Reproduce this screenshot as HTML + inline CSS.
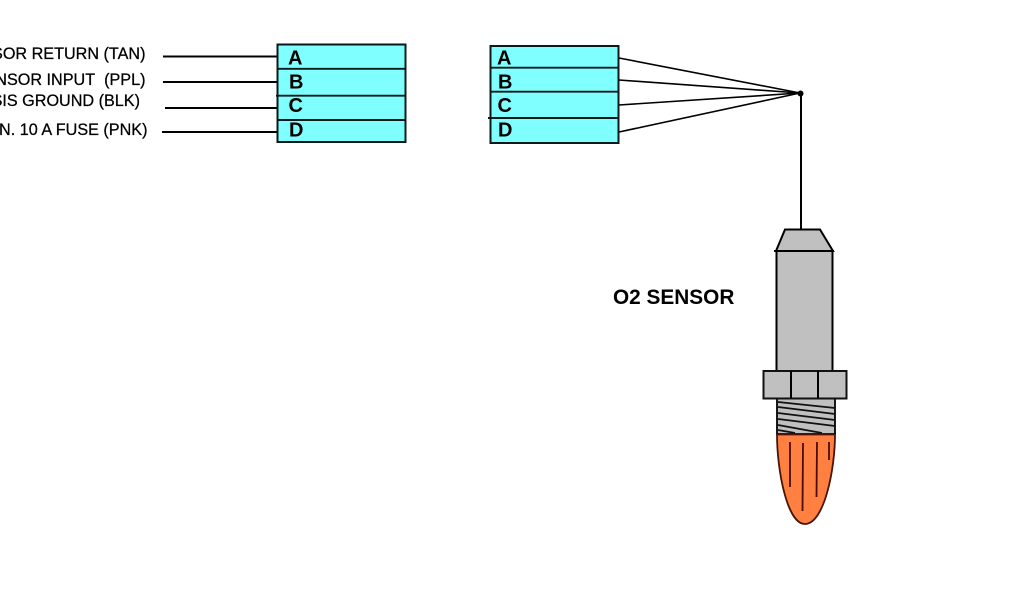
<!DOCTYPE html>
<html>
<head>
<meta charset="utf-8">
<style>
html,body{margin:0;padding:0;background:#fff;width:1024px;height:600px;overflow:hidden}
svg{display:block;filter:blur(.3px)}
text{font-family:"Liberation Sans",Arial,sans-serif;fill:#000}
.l{font-size:16.2px;text-anchor:end;stroke:#000;stroke-width:.25px}
.k{font-size:20px;font-weight:bold}
</style>
</head>
<body>
<svg width="1024" height="600" viewBox="0 0 1024 600" xmlns="http://www.w3.org/2000/svg">
<rect width="1024" height="600" fill="#fff"/>

<!-- left labels -->
<text class="l" x="145.500" y="59">SENSOR RETURN (TAN)</text>
<text class="l" x="145.500" y="85">O2 SENSOR INPUT&#160; (PPL)</text>
<text class="l" x="140" y="106">CHASSIS GROUND (BLK)</text>
<text class="l" x="147.500" y="135">IGN. 10 A FUSE (PNK)</text>

<g stroke="#000" stroke-width="2" fill="none">
<line x1="163" y1="56.500" x2="277" y2="56.500"/>
<line x1="163" y1="82" x2="277" y2="82"/>
<line x1="165" y1="108" x2="277" y2="108"/>
<line x1="162" y1="132" x2="277" y2="132"/>
</g>

<!-- left connector -->
<rect x="277.500" y="44.500" width="128" height="97.500" fill="#7fffff" stroke="#0a1a1a" stroke-width="2"/>
<g stroke="#0a1a1a" stroke-width="1.900">
<line x1="277" y1="68.800" x2="406" y2="68.800"/>
<line x1="276" y1="95.700" x2="406" y2="95.700"/>
<line x1="277" y1="120" x2="406" y2="120"/>
</g>
<text class="k" x="288" y="64.500">A</text>
<text class="k" x="289" y="88.500">B</text>
<text class="k" x="288.500" y="112">C</text>
<text class="k" x="289" y="136.500">D</text>

<!-- right connector -->
<rect x="490.500" y="46" width="128" height="97" fill="#7fffff" stroke="#0a1a1a" stroke-width="2"/>
<g stroke="#0a1a1a" stroke-width="1.900">
<line x1="490" y1="67.700" x2="619" y2="67.700"/>
<line x1="490" y1="91.700" x2="619" y2="91.700"/>
<line x1="488" y1="118" x2="619" y2="118"/>
</g>
<text class="k" x="497" y="64.500">A</text>
<text class="k" x="498" y="88.500">B</text>
<text class="k" x="497.500" y="112">C</text>
<text class="k" x="498" y="136.500">D</text>

<!-- fan-in wires -->
<g stroke="#000" stroke-width="1.600" fill="none">
<line x1="619" y1="58" x2="800" y2="93"/>
<line x1="619" y1="80" x2="800" y2="93"/>
<line x1="619" y1="105" x2="800" y2="93"/>
<line x1="619" y1="132" x2="800" y2="93"/>
<line x1="801" y1="93" x2="801" y2="230" stroke-width="2"/>
</g>
<circle cx="800.500" cy="93.500" r="3" fill="#000"/>

<text x="613" y="304" font-size="20.800" font-weight="bold">O2 SENSOR</text>

<!-- sensor cap & body -->
<polygon points="785,229.500 820,229.500 833,251 776,251" fill="#c0c0c0" stroke="#000" stroke-width="2"/>
<rect x="776.500" y="251" width="56" height="120" fill="#c0c0c0" stroke="#000" stroke-width="2"/>
<line x1="774" y1="251" x2="834" y2="251" stroke="#000" stroke-width="2"/>

<!-- threads -->
<rect x="777" y="398" width="58" height="36" fill="#c0c0c0" stroke="#000" stroke-width="1.800"/>
<g stroke="#111" stroke-width="1.800" fill="none">
<line x1="778" y1="402" x2="835" y2="408"/>
<line x1="778" y1="407" x2="835" y2="414"/>
<line x1="778" y1="413" x2="835" y2="420"/>
<line x1="778" y1="419" x2="835" y2="426"/>
<line x1="778" y1="425" x2="822" y2="433"/>
<line x1="778" y1="430" x2="795" y2="433"/>
</g>

<!-- nut -->
<rect x="763.500" y="371" width="83" height="27.500" fill="#c0c0c0" stroke="#111" stroke-width="2"/>
<line x1="791" y1="371" x2="791" y2="398" stroke="#000" stroke-width="2"/>
<line x1="818" y1="371" x2="818" y2="398" stroke="#000" stroke-width="2"/>

<!-- orange tip -->
<path d="M777,434.500 L835,434.500 C835,470 824,524 805,524 C787,524 777,470 777,434.500 Z" fill="#ff8040" stroke="#4a1408" stroke-width="1.800"/>
<g stroke="#4a0c04" stroke-width="1.800" fill="none">
<line x1="790" y1="442" x2="790" y2="487"/>
<line x1="803" y1="443" x2="802.500" y2="511"/>
<line x1="817" y1="442" x2="816.500" y2="497"/>
<line x1="829" y1="442" x2="829" y2="460"/>
</g>
</svg>
</body>
</html>
